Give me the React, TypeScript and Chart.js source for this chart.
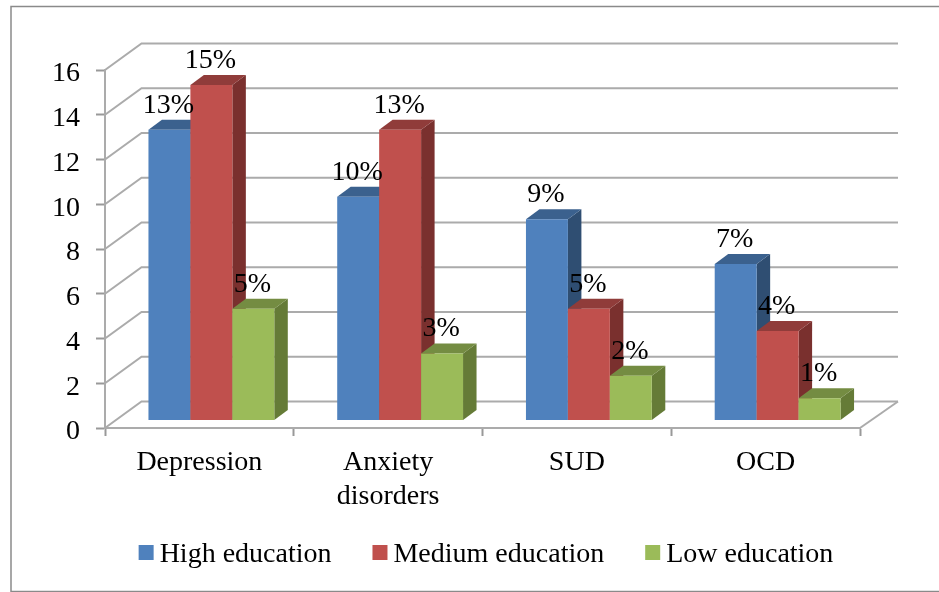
import { useEffect, useRef } from "react";
import { Chart, registerables } from "chart.js";

Chart.register(...registerables);

const categories: (string | string[])[] = ["Depression", ["Anxiety", "disorders"], "SUD", "OCD"];
const highEducation = [13, 10, 9, 7];
const mediumEducation = [15, 13, 5, 4];
const lowEducation = [5, 3, 2, 1];
const seriesNames = ["High education", "Medium education", "Low education"];
const frontColors = ["#4F81BD", "#C0504D", "#9BBB59"];
const topColors = ["#3B618E", "#903C3A", "#748C42"];
const sideColors = ["#2F4E72", "#7A302E", "#657B37"];

const FONT_FAMILY = "'Liberation Serif', serif";
const FONT_SIZE = 28;
const LINE_COLOR = "#ababab";

// The projected box: how far the back wall sits from the front frame,
// where the bars stand inside it, and how deep each bar is drawn.
const WALL_DX = 36.5;
const WALL_DY = -26.5;
const BAR_PLANE_DX = 12;
const BAR_PLANE_DY = -7.5;
const BAR_DX = 13.5;
const BAR_DY = -10;

const boxPlugin = {
  id: "box3d",
  beforeDraw(chart: any) {
    const { ctx, width, height } = chart;
    ctx.save();
    ctx.fillStyle = "#ffffff";
    ctx.fillRect(0, 0, width, height);
    ctx.strokeStyle = "#8a8a8a";
    ctx.lineWidth = 1.5;
    ctx.strokeRect(11, 6.5, width + 40, 585);
    ctx.restore();
  },
  beforeDatasetsDraw(chart: any) {
    const { ctx, chartArea, scales } = chart;
    ctx.save();
    ctx.strokeStyle = LINE_COLOR;
    ctx.lineWidth = 2;
    ctx.lineJoin = "miter";
    for (const tick of scales.y.ticks) {
      const y = scales.y.getPixelForValue(tick.value);
      ctx.beginPath();
      ctx.moveTo(chartArea.left, y);
      ctx.lineTo(chartArea.left + WALL_DX, y + WALL_DY);
      ctx.lineTo(chartArea.right + WALL_DX + 1.5, y + WALL_DY);
      ctx.stroke();
    }
    // Right edge of the floor
    ctx.beginPath();
    ctx.moveTo(chartArea.right, chartArea.bottom);
    ctx.lineTo(chartArea.right + WALL_DX + 1.5, chartArea.bottom + WALL_DY);
    ctx.stroke();
    ctx.restore();
  },
  // Chart.js paints the last dataset first; the bars here must overlap the
  // other way round, so its own pass is skipped and they are painted below.
  beforeDatasetDraw() {
    return false;
  },
  afterDatasetsDraw(chart: any) {
    const { ctx } = chart;
    ctx.save();
    ctx.translate(BAR_PLANE_DX, BAR_PLANE_DY);
    chart.data.datasets.forEach((_: any, i: number) => {
      const meta = chart.getDatasetMeta(i);
      for (const bar of meta.data) {
        const { x, y, base, width } = bar.getProps(["x", "y", "base", "width"], true);
        const l = x - width / 2;
        const r = x + width / 2;
        ctx.fillStyle = sideColors[i];
        ctx.beginPath();
        ctx.moveTo(r, y);
        ctx.lineTo(r + BAR_DX, y + BAR_DY);
        ctx.lineTo(r + BAR_DX, base + BAR_DY);
        ctx.lineTo(r, base);
        ctx.closePath();
        ctx.fill();
        ctx.fillStyle = topColors[i];
        ctx.beginPath();
        ctx.moveTo(l, y);
        ctx.lineTo(l + BAR_DX, y + BAR_DY);
        ctx.lineTo(r + BAR_DX, y + BAR_DY);
        ctx.lineTo(r, y);
        ctx.closePath();
        ctx.fill();
      }
      meta.controller.draw();
    });

    ctx.font = `${FONT_SIZE}px ${FONT_FAMILY}`;
    ctx.fillStyle = "#000000";
    ctx.textAlign = "center";
    ctx.textBaseline = "alphabetic";
    chart.data.datasets.forEach((dataset: any, i: number) => {
      chart.getDatasetMeta(i).data.forEach((bar: any, j: number) => {
        const { x, y } = bar.getProps(["x", "y"], true);
        ctx.fillText(`${dataset.data[j]}%`, x - 1, y - 17);
      });
    });
    ctx.restore();
  },
  afterDraw(chart: any) {
    // Legend row: square, small gap, name; centred under the plot.
    const { ctx } = chart;
    const boxSize = 15;
    const boxGap = 6;
    const itemGap = 41;
    const center = 486;
    ctx.save();
    ctx.font = `${FONT_SIZE}px ${FONT_FAMILY}`;
    ctx.textAlign = "left";
    ctx.textBaseline = "alphabetic";
    const widths = chart.data.datasets.map((d: any) => ctx.measureText(d.label).width);
    const total =
      widths.reduce((a: number, b: number) => a + b + boxSize + boxGap, 0) +
      itemGap * (widths.length - 1);
    let x = center - total / 2;
    chart.data.datasets.forEach((d: any, i: number) => {
      ctx.fillStyle = d.backgroundColor;
      ctx.fillRect(x, 545, boxSize, boxSize);
      ctx.fillStyle = "#000000";
      ctx.fillText(d.label, x + boxSize + boxGap, 562);
      x += boxSize + boxGap + widths[i] + itemGap;
    });
    ctx.restore();
  },
};

export default function App() {
  const canvasRef = useRef<HTMLCanvasElement | null>(null);

  useEffect(() => {
    const chart = new Chart(canvasRef.current as HTMLCanvasElement, {
      type: "bar",
      data: {
        labels: categories as any,
        datasets: [highEducation, mediumEducation, lowEducation].map((data, i) => ({
          label: seriesNames[i],
          data,
          backgroundColor: frontColors[i],
          borderWidth: 0,
          categoryPercentage: 2 / 3,
          barPercentage: 1,
        })),
      },
      options: {
        responsive: false,
        animation: false,
        layout: { padding: { top: 70, right: 79, left: 0, bottom: 0 } },
        plugins: { legend: { display: false }, tooltip: { enabled: false }, title: { display: false } },
        scales: {
          x: {
            afterFit: (scale: any) => {
              scale.height = 164;
            },
            grid: {
              drawOnChartArea: false,
              drawTicks: true,
              tickLength: 8,
              tickColor: "#999999",
              tickWidth: 2,
            },
            border: { color: LINE_COLOR, width: 2 },
            ticks: {
              autoSkip: false,
              maxRotation: 0,
              minRotation: 0,
              padding: 10,
              color: "#000000",
              font: { family: FONT_FAMILY, size: FONT_SIZE, lineHeight: 1.2 },
            },
          },
          y: {
            min: 0,
            max: 16,
            afterFit: (scale: any) => {
              scale.width = 105;
            },
            grid: {
              drawOnChartArea: false,
              drawTicks: true,
              tickLength: 9,
              tickColor: "#999999",
              tickWidth: 2,
            },
            border: { color: LINE_COLOR, width: 2 },
            ticks: {
              stepSize: 2,
              padding: 16,
              labelOffset: 4,
              color: "#000000",
              font: { family: FONT_FAMILY, size: FONT_SIZE },
            },
          },
        },
      },
      plugins: [boxPlugin],
    } as any);
    return () => chart.destroy();
  }, []);

  return (
    <div style={{ position: "absolute", left: 0, top: 0 }}>
      <canvas ref={canvasRef} width={939} height={592} style={{ display: "block" }} />
    </div>
  );
}
